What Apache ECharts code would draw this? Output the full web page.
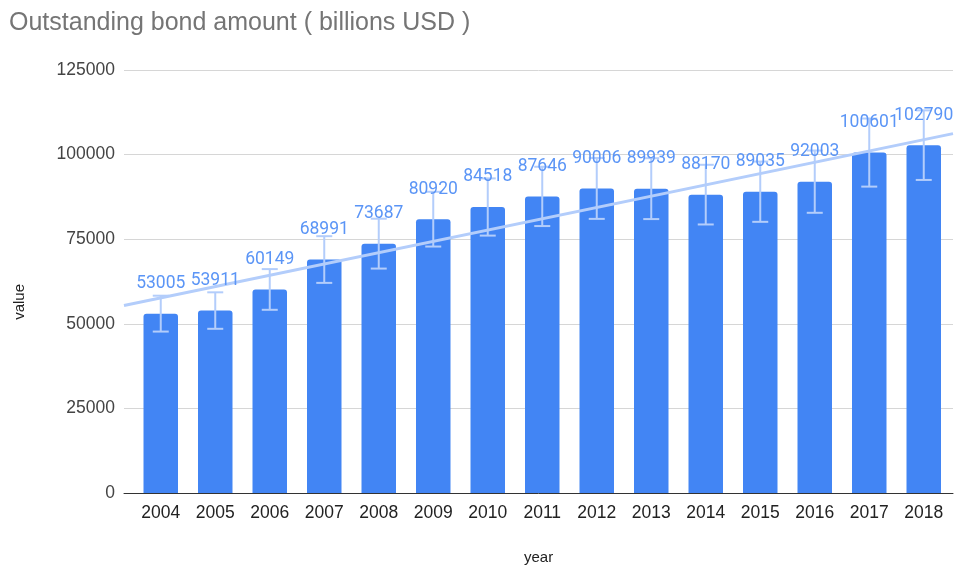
<!DOCTYPE html>
<html>
<head>
<meta charset="utf-8">
<script src="https://cdn.jsdelivr.net/npm/echarts@6/dist/echarts.min.js"></script>
<style>
  html, body { margin: 0; padding: 0; background: #fff; }
  #chart { width: 954px; height: 573px; }
</style>
</head>
<body>
<div id="chart"></div>
<script>
// Outstanding bond amount per year, billions USD
const years = ['2004', '2005', '2006', '2007', '2008', '2009', '2010', '2011',
               '2012', '2013', '2014', '2015', '2016', '2017', '2018'];
const amounts = [53005, 53911, 60149, 68991, 73687, 80920, 84518, 87646,
                 90006, 89939, 88170, 89035, 92003, 100601, 102790];
const errorPct = 0.10;          // ±10 % error bars
const yTicks = [0, 25000, 50000, 75000, 100000, 125000];

// least-squares trend over the year index
function linearFit(vals) {
  const n = vals.length;
  let sx = 0, sy = 0, sxx = 0, sxy = 0;
  vals.forEach((v, i) => { sx += i; sy += v; sxx += i * i; sxy += i * v; });
  const slope = (n * sxy - sx * sy) / (n * sxx - sx * sx);
  const intercept = (sy - slope * sx) / n;
  return x => intercept + slope * x;
}
const fit = linearFit(amounts);

// layout: bars live in an inner grid, the frame (gridlines, trend) in an outer one
const W = 954, H = 573;
const outer = { left: 124, right: 1, top: 70, bottom: 80 };
const inner = { left: 133.5, right: 3, top: 70, bottom: 80 };
const catW = (W - inner.left - inner.right) / years.length;
const firstCenter = inner.left + catW / 2;
const xMinOuter = (outer.left - firstCenter) / catW;
const xMaxOuter = (W - outer.right - firstCenter) / catW;

const errData = amounts.map((v, i) => [i, v * (1 - errorPct), v * (1 + errorPct)]);
const trendData = [[xMinOuter, fit(xMinOuter)], [xMaxOuter, fit(xMaxOuter)]];

const chart = echarts.init(document.getElementById('chart'), null, { renderer: 'canvas' });
chart.setOption({
  animation: false,
  backgroundColor: '#ffffff',
  title: {
    text: 'Outstanding bond amount ( billions USD )',
    left: 4, top: 6,
    textStyle: { fontFamily: 'Liberation Sans, Arial, sans-serif', fontSize: 25,
                 fontWeight: 'normal', color: '#757575' }
  },
  grid: [
    Object.assign({ containLabel: false }, outer),
    Object.assign({ containLabel: false }, inner)
  ],
  xAxis: [
    { type: 'value', gridIndex: 0, min: xMinOuter, max: xMaxOuter,
      axisLine: { show: true, onZero: false, lineStyle: { color: '#333333', width: 1 } },
      axisTick: { show: false }, axisLabel: { show: false }, splitLine: { show: false } },
    { type: 'category', gridIndex: 1, data: years,
      axisLine: { show: false }, axisTick: { show: false },
      axisLabel: { color: '#222222', fontSize: 17.5, margin: 11,
                   fontFamily: 'Liberation Sans, Arial, sans-serif' } }
  ],
  yAxis: [
    { type: 'value', gridIndex: 0, min: yTicks[0], max: yTicks[yTicks.length - 1],
      interval: yTicks[1] - yTicks[0],
      axisLine: { show: false }, axisTick: { show: false },
      axisLabel: { color: '#444444', fontSize: 17.5, margin: 9,
                   fontFamily: 'Liberation Sans, Arial, sans-serif',
                   formatter: v => String(v) },
      splitLine: { lineStyle: { color: '#d6d6d6', width: 1 } } },
    { type: 'value', gridIndex: 1, min: yTicks[0], max: yTicks[yTicks.length - 1],
      show: false, splitLine: { show: false } }
  ],
  graphic: [
    { type: 'text', left: 12, top: 284, rotation: Math.PI / 2,
      style: { text: 'value', fill: '#222222', fontSize: 15,
               font: '15px Liberation Sans, Arial, sans-serif' } },
    { type: 'text', left: 524, top: 550,
      style: { text: 'year', fill: '#222222', fontSize: 15,
               font: '15px Liberation Sans, Arial, sans-serif' } }
  ],
  series: [
    {
      name: 'value', type: 'bar', xAxisIndex: 1, yAxisIndex: 1,
      data: amounts, barWidth: 34.5, z: 2,
      itemStyle: { color: '#4285f4', borderRadius: [3, 3, 0, 0] }
    },
    {
      name: 'error', type: 'custom', xAxisIndex: 1, yAxisIndex: 1,
      data: errData, z: 3, silent: true,
      renderItem: function (params, api) {
        const x = api.value(0);
        const lo = api.coord([x, api.value(1)]);
        const hi = api.coord([x, api.value(2)]);
        const cap = 8;
        const style = { stroke: '#b3cdfb', lineWidth: 2 };
        return {
          type: 'group',
          children: [
            { type: 'line', shape: { x1: lo[0], y1: lo[1], x2: hi[0], y2: hi[1] }, style },
            { type: 'line', shape: { x1: lo[0] - cap, y1: lo[1], x2: lo[0] + cap, y2: lo[1] }, style },
            { type: 'line', shape: { x1: hi[0] - cap, y1: hi[1], x2: hi[0] + cap, y2: hi[1] }, style }
          ]
        };
      }
    },
    {
      name: 'trend', type: 'line', xAxisIndex: 0, yAxisIndex: 0,
      data: trendData, showSymbol: false, z: 4, silent: true,
      lineStyle: { color: '#b3cdfb', width: 3 }
    },
    {
      // value labels, kept above error bars and trend line
      name: 'labels', type: 'bar', xAxisIndex: 1, yAxisIndex: 1,
      data: amounts, barWidth: 34.5, barGap: '-100%', z: 5, silent: true,
      itemStyle: { color: 'rgba(0,0,0,0)' },
      label: { show: true, position: 'top', distance: 21, color: '#5b95f6',
               fontSize: 17.5, fontFamily: 'Roboto, sans-serif' }
    }
  ]
});
</script>
</body>
</html>
